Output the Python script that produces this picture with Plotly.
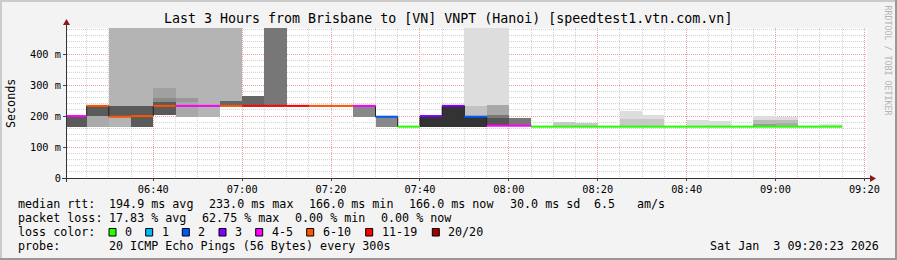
import plotly.graph_objects as go
from datetime import datetime, timedelta

DAY = "2026-01-03"

# ---- data -----------------------------------------------------------
step_times = ["06:20", "06:25", "06:30", "06:35", "06:40", "06:45", "06:50", "06:55",
              "07:00", "07:05", "07:10", "07:15", "07:20", "07:25", "07:30", "07:35",
              "07:40", "07:45", "07:50", "07:55", "08:00", "08:05", "08:10", "08:15",
              "08:20", "08:25", "08:30", "08:35", "08:40", "08:45", "08:50", "08:55",
              "09:00", "09:05", "09:10"]
median_ms = [200, 233, 198, 200, 233, 233, 233, 233, 233, 233, 233, 233, 233, 233, 198, 166,
             200, 233, 198, 169, 169, 166, 166, 166, 166, 166, 166, 166, 166, 166, 166, 166,
             166, 166, 166]
loss_pings = [4, 8, 8, 8, 8, 4, 4, 8, 12, 13, 12, 8, 8, 4, 2, 0,
              3, 3, 2, 4, 4, 0, 0, 0, 0, 0, 0, 0, 0, 0, 0, 0,
              0, 0, 0]

# smoke bands: step index, low ms, high ms, grey shade
band_step = [0, 1, 1, 2, 2, 3, 3, 4, 4, 4, 4, 5, 5, 5, 6, 7, 7, 8, 9, 13, 14, 16, 17,
             18, 18, 18, 19, 19, 19, 19, 20, 22, 23, 25, 25, 26, 26, 28, 29,
             31, 31, 31, 32, 32, 32, 34]
band_lo = [166, 166, 200, 166, 198, 166, 166, 204, 204, 204, 204, 198, 198, 247, 198, 233, 233,
           233, 233, 198, 166, 166, 166, 166, 198, 166, 169, 169, 169, 169, 169, 166, 166,
           166, 166, 166, 166, 166, 166, 166, 166, 166, 166, 166, 166, 166]
band_hi = [200, 233, 233, 520, 233, 520, 233, 520, 291, 258, 244, 520, 259, 259, 520, 520, 249,
           265, 520, 233, 198, 200, 233, 520, 233, 198, 520, 236, 204, 193, 193, 181, 179,
           215, 191, 204, 191, 188, 184, 200, 188, 176, 196, 188, 178, 175]
band_shade = [0x5a, 0xaa, 0x5a, 0xb4, 0x5a, 0xb4, 0x5a, 0xb4, 0xa0, 0x8a, 0x5a, 0xb4, 0xa8, 0x98,
              0xb4, 0xb4, 0x66, 0x66, 0x77, 0x88, 0x88, 0x33, 0x33, 0xdd, 0xc2, 0x33,
              0xdd, 0xa8, 0x77, 0x55, 0x77, 0xc8, 0xc8, 0xdd, 0xc8, 0xdd, 0xc8, 0xdd, 0xdd,
              0xdd, 0xbb, 0x99, 0xdd, 0xbb, 0xaa, 0xe2]

loss_labels = ["0", "1", "2", "3", "4-5", "6-10", "11-19", "20/20"]
loss_max = [0, 1, 2, 3, 5, 10, 19, 20]
loss_colors = ["#26ff00", "#00b8ff", "#0059ff", "#7e00ff", "#ff00ff", "#ff5500", "#ff0000", "#a10000"]

title_text = "Last 3 Hours from Brisbane to [VN] VNPT (Hanoi) [speedtest1.vtn.com.vn]"
y_tick_vals = [0, 100, 200, 300, 400]
y_tick_text = ["0", "100 m", "200 m", "300 m", "400 m"]

# ---- helpers --------------------------------------------------------
STEP = timedelta(minutes=5)
starts = [datetime.fromisoformat(f"{DAY} {t}") for t in step_times]
ends = [s + STEP for s in starts]
fmt = lambda d: d.strftime("%Y-%m-%d %H:%M:%S")

W, H = 897, 260
L, R, T, B = 67, 867, 28, 178
def xp(px):
    return (px - L) / (R - L)
def yp(py):
    return (B - py) / (B - T)
def nb(s):
    return s.replace(" ", "\u00a0")

MONO = "DejaVu Sans Mono"
fig = go.Figure()

# smoke
fig.add_trace(go.Bar(
    x=[fmt(starts[i] + STEP / 2) for i in band_step],
    base=band_lo,
    y=[h - l for l, h in zip(band_lo, band_hi)],
    width=[STEP.total_seconds() * 1000] * len(band_step),
    marker=dict(color=[f"rgb({s},{s},{s})" for s in band_shade], line=dict(width=0)),
    hoverinfo="skip", showlegend=False))

# dark median line
fig.add_trace(go.Scatter(
    x=[fmt(s) for s in starts] + [fmt(ends[-1])],
    y=median_ms + [median_ms[-1]],
    mode="lines", line=dict(color="#202020", width=1, shape="hv"),
    hoverinfo="skip", showlegend=False))

# coloured median by loss
def bin_of(n):
    for k, m in enumerate(loss_max):
        if n <= m:
            return k
    return len(loss_max) - 1

for k, col in enumerate(loss_colors):
    xs, ys = [], []
    for i in range(len(step_times)):
        if bin_of(loss_pings[i]) == k:
            xs += [fmt(starts[i]), fmt(ends[i]), None]
            ys += [median_ms[i], median_ms[i], None]
    if xs:
        fig.add_trace(go.Scatter(x=xs, y=ys, mode="lines",
                                 line=dict(color=col, width=2),
                                 hoverinfo="skip", showlegend=False))

x0 = datetime.fromisoformat(f"{DAY} 06:20:35")
x1 = x0 + timedelta(hours=3)

fig.update_layout(
    width=W, height=H,
    margin=dict(l=L, r=W - R, t=T, b=H - B),
    paper_bgcolor="#f3f3f3", plot_bgcolor="#ffffff",
    barmode="overlay", bargap=0,
    font=dict(family=MONO, size=11.7, color="#000000"),
    xaxis=dict(type="date", range=[fmt(x0), fmt(x1)],
               tick0=f"{DAY} 06:40", dtick=20 * 60 * 1000, tickformat="%H:%M",
               tickfont=dict(size=10.3), ticks="outside", ticklen=2, tickcolor="#444",
               showgrid=True, gridcolor="#f0a0a0", griddash="1px,1px", gridwidth=1,
               minor=dict(dtick=5 * 60 * 1000, showgrid=True, gridcolor="#d4d4d4",
                          griddash="1px,1px", ticks=""),
               showline=False, zeroline=False, fixedrange=True),
    yaxis=dict(range=[0, (B - T) / 0.3096], tickvals=y_tick_vals, ticktext=y_tick_text,
               tickfont=dict(size=10.3), ticks="outside", ticklen=3, tickcolor="#444",
               showgrid=True, gridcolor="#f0a0a0", griddash="1px,1px", gridwidth=1,
               minor=dict(dtick=20, showgrid=True, gridcolor="#d4d4d4",
                          griddash="1px,1px", ticks=""),
               showline=False, zeroline=False, fixedrange=True),
)

shapes = []
# frame shading
shapes.append(dict(type="rect", xref="paper", yref="paper", x0=xp(0), x1=xp(W), y0=yp(0), y1=yp(2),
                   fillcolor="#cbcbcb", line=dict(width=0)))
shapes.append(dict(type="rect", xref="paper", yref="paper", x0=xp(0), x1=xp(2), y0=yp(0), y1=yp(H),
                   fillcolor="#cbcbcb", line=dict(width=0)))
shapes.append(dict(type="rect", xref="paper", yref="paper", x0=xp(0), x1=xp(W), y0=yp(H - 2), y1=yp(H),
                   fillcolor="#999999", line=dict(width=0)))
shapes.append(dict(type="rect", xref="paper", yref="paper", x0=xp(W - 2), x1=xp(W), y0=yp(0), y1=yp(H),
                   fillcolor="#999999", line=dict(width=0)))
# axes
shapes.append(dict(type="line", xref="paper", yref="paper", x0=xp(62), x1=xp(870), y0=yp(178.5), y1=yp(178.5),
                   line=dict(color="#333333", width=1)))
shapes.append(dict(type="line", xref="paper", yref="paper", x0=xp(66.5), x1=xp(66.5), y0=yp(182), y1=yp(25),
                   line=dict(color="#333333", width=1)))
ax, ay = 870, 178.5
shapes.append(dict(type="path", xref="paper", yref="paper",
                   path=f"M {xp(ax)} {yp(ay-3.5)} L {xp(ax+6)} {yp(ay)} L {xp(ax)} {yp(ay+3.5)} Z",
                   fillcolor="#8b1a1a", line=dict(width=0)))
ux, uy = 66.5, 25
shapes.append(dict(type="path", xref="paper", yref="paper",
                   path=f"M {xp(ux-3.5)} {yp(uy)} L {xp(ux)} {yp(uy-6)} L {xp(ux+3.5)} {yp(uy)} Z",
                   fillcolor="#8b1a1a", line=dict(width=0)))

annotations = []
def txt(px, py, s, size=11.7, anchor="left", color="#000000", angle=0):
    annotations.append(dict(xref="paper", yref="paper", x=xp(px), y=yp(py), text=nb(s),
                            showarrow=False, xanchor=anchor, yanchor="middle", textangle=angle,
                            font=dict(family=MONO, size=size, color=color)))

txt(447.5, 19, title_text, size=13.3, anchor="center")
txt(11, 103, "Seconds", size=11.7, anchor="center", angle=-90)
txt(887.5, 60, "RRDTOOL / TOBI OETIKER", size=8.3, anchor="center", color="#b4b4b4", angle=90)

# legend rows
txt(16, 204, "median rtt:")
for px, s in [(107.3, "194.9 ms avg"), (207.3, "233.0 ms max"), (307.3, "166.0 ms min"),
              (407.3, "166.0 ms now"), (507.5, "30.0 ms sd"), (591.5, "6.5"), (634.5, "am/s")]:
    txt(px, 204, s)
txt(16, 218, "packet loss:")
for px, s in [(107.3, "17.83 % avg"), (200.0, "62.75 % max"), (293.0, "0.00 % min"),
              (378.5, "0.00 % now")]:
    txt(px, 218, s)
txt(16, 232, "loss color:")
box_x = [109, 145.7, 182.3, 219, 255.7, 306.7, 365.7, 432.3]
for bx, lab, col in zip(box_x, loss_labels, loss_colors):
    shapes.append(dict(type="rect", xref="paper", yref="paper", x0=xp(bx), x1=xp(bx + 7),
                       y0=yp(228.5), y1=yp(236), fillcolor=col, line=dict(color="#000000", width=1)))
    txt(bx + 14, 232, lab)
txt(16, 246, "probe:")
txt(107.3, 246, "20 ICMP Echo Pings (56 Bytes) every 300s")
txt(880.5, 246, "Sat Jan  3 09:20:23 2026", anchor="right")

fig.update_layout(shapes=shapes, annotations=annotations)
fig.write_html("out.html")
